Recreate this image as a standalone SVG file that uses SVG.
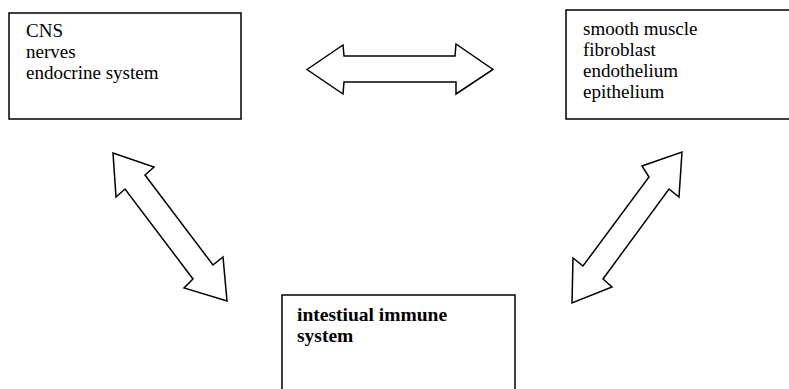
<svg xmlns="http://www.w3.org/2000/svg" width="789" height="389" viewBox="0 0 789 389">
<style>
.box{fill:#fff;stroke:#000;stroke-width:1.5}
.arrow{fill:#fff;stroke:#000;stroke-width:1.5;stroke-linejoin:miter}
.t{font-family:"Liberation Serif","Times New Roman",serif;font-size:19px;fill:#000}
.b{font-weight:bold;font-size:19.5px}
</style>
<rect width="789" height="389" fill="#fff"/>
<g id="connectors">
<polygon class="arrow" points="307,69.5 343,45 344,56 455,56 456,44 493,69.5 456,94 456,82 344,82 343,94"/>
<polygon class="arrow" points="113,153 154,167 145,175 213,265 223,257 227,301 184,288 193,279 125,189 116,197"/>
<polygon class="arrow" points="682,152 679,197 669,189 603,279 612,287 572,303 573,258 583,266 649,177 642,166"/>
</g>
<g id="node-cns">
<rect class="box" x="9" y="13" width="232" height="106"/>
<text class="t" x="26" y="37">CNS</text>
<text class="t" x="26" y="58">nerves</text>
<text class="t" x="26" y="79">endocrine system</text>
</g>
<g id="node-tissue">
<rect class="box" x="566" y="10" width="240" height="109"/>
<text class="t" x="583" y="35">smooth muscle</text>
<text class="t" x="583" y="56">fibroblast</text>
<text class="t" x="583" y="77">endothelium</text>
<text class="t" x="583" y="98">epithelium</text>
</g>
<g id="node-immune">
<rect class="box" x="282" y="295" width="233" height="110"/>
<text class="t b" x="297" y="321">intestiual immune</text>
<text class="t b" x="297" y="342">system</text>
</g>
</svg>
